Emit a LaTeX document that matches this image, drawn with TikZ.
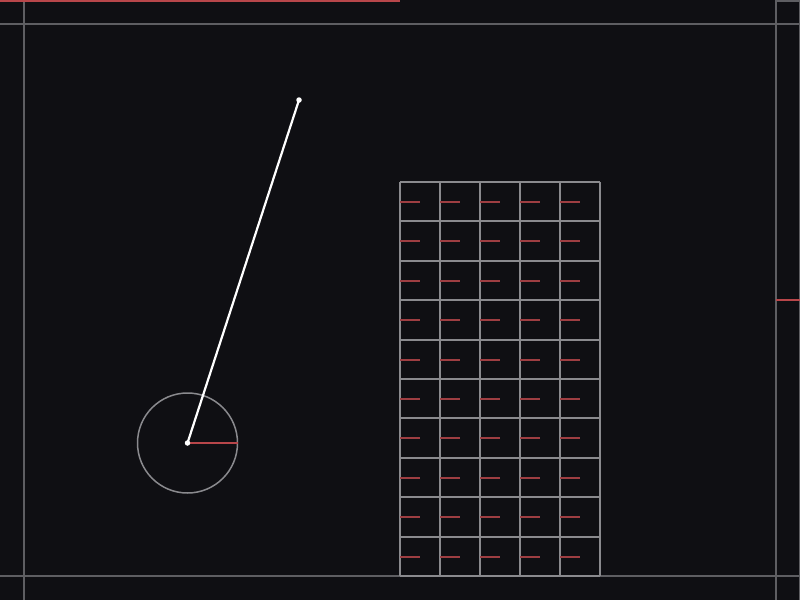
\documentclass[tikz,border=0pt]{standalone}
\definecolor{bg}{HTML}{0F0F13}
\definecolor{frameline}{HTML}{5E5E62}
\definecolor{gridline}{HTML}{8A8A8E}
\definecolor{redline}{HTML}{B8464A}
\definecolor{dashred}{HTML}{9E3E42}
\tikzset{
  framestroke/.style={draw=frameline, line width=2pt},
  gridstroke/.style={draw=gridline, line width=2pt},
  redstroke/.style={draw=redline, line width=2pt},
  dashmark/.style={draw=dashred, line width=2pt},
  rod/.style={draw=white, line width=2.2pt},
  dotmark/.style={fill=white, circle, inner sep=0pt, minimum size=5.5pt}
}
\begin{document}
\begin{tikzpicture}[x=1pt, y=-1pt]
\fill[bg] (0,0) rectangle (800,600);
\useasboundingbox (0,0) rectangle (800,600);
% frame
\draw[framestroke] (0,24) -- (800,24);
\draw[framestroke] (0,576) -- (800,576);
\draw[framestroke] (24,0) -- (24,600);
\draw[framestroke] (776,0) -- (776,600);
\draw[framestroke] (799.5,0) -- (799.5,600);
\draw[framestroke] (776,0.5) -- (800,0.5);
% red markers
\draw[redstroke] (0,0.5) -- (400,0.5);
\draw[redstroke] (776,300) -- (800,300);
% grid
\foreach \i in {0,...,5} {
  \draw[gridstroke] (400+40*\i,182) -- (400+40*\i,576);
}
\foreach \j in {0,...,10} {
  \pgfmathsetmacro{\yy}{round(182+39.4*\j)}
  \draw[gridstroke] (400,\yy) -- (600,\yy);
}
\foreach \i in {0,...,4} {
  \foreach \j in {0,...,9} {
    \pgfmathsetmacro{\yd}{round(202+39.4*\j)}
    \draw[dashmark] (400+40*\i,\yd) -- (420+40*\i,\yd);
  }
}
% pendulum
\coordinate (pivot) at (187.5,443);
\coordinate (bob) at (299,100);
\coordinate (rim) at (237.5,443);
\draw[draw=gridline, line width=1.5pt] (pivot) circle (50);
\draw[redstroke, line width=2.2pt] (pivot) -- (rim);
\draw[rod] (pivot) -- (bob);
\node[dotmark] (pivotdot) at (pivot) {};
\node[dotmark] (bobdot) at (bob) {};
\end{tikzpicture}
\end{document}
